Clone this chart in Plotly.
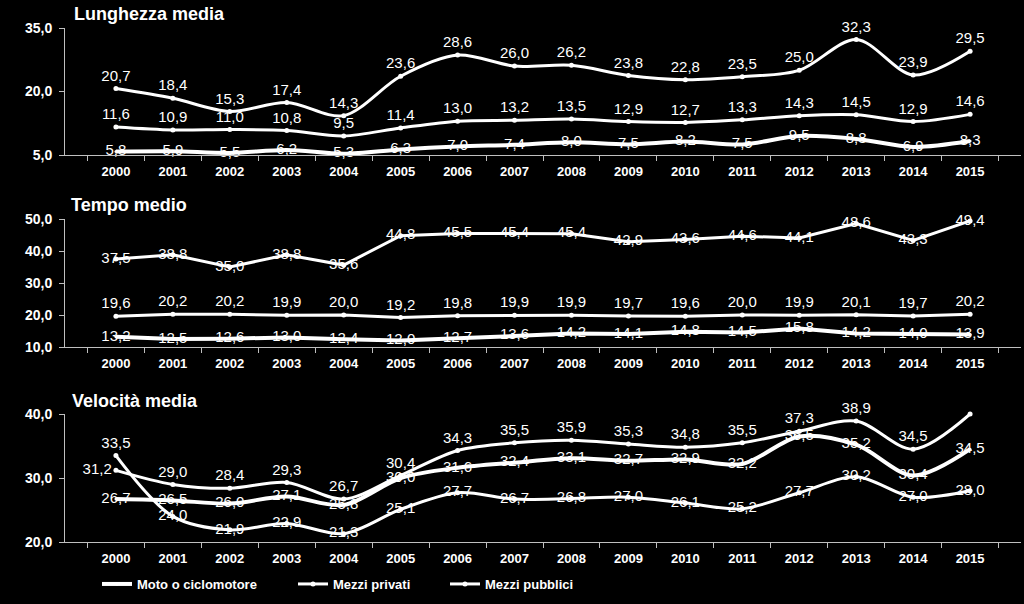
import plotly.graph_objects as go

years = [str(y) for y in range(2000, 2016)]

# Lunghezza media
len_pub = [20.7, 18.4, 15.3, 17.4, 14.3, 23.6, 28.6, 26.0, 26.2, 23.8, 22.8, 23.5, 25.0, 32.3, 23.9, 29.5]
len_priv = [11.6, 10.9, 11.0, 10.8, 9.5, 11.4, 13.0, 13.2, 13.5, 12.9, 12.7, 13.3, 14.3, 14.5, 12.9, 14.6]
len_moto = [5.8, 5.9, 5.5, 6.2, 5.3, 6.3, 7.0, 7.4, 8.0, 7.5, 8.2, 7.5, 9.5, 8.8, 6.9, 8.3]

# Tempo medio
tmp_pub = [37.5, 38.8, 35.0, 38.8, 35.6, 44.8, 45.5, 45.4, 45.4, 42.9, 43.6, 44.6, 44.1, 48.6, 43.3, 49.4]
tmp_priv = [19.6, 20.2, 20.2, 19.9, 20.0, 19.2, 19.8, 19.9, 19.9, 19.7, 19.6, 20.0, 19.9, 20.1, 19.7, 20.2]
tmp_moto = [13.2, 12.5, 12.6, 13.0, 12.4, 12.0, 12.7, 13.6, 14.2, 14.1, 14.8, 14.5, 15.8, 14.2, 14.0, 13.9]

# Velocità media
vel_priv = [31.2, 29.0, 28.4, 29.3, 26.7, 30.4, 34.3, 35.5, 35.9, 35.3, 34.8, 35.5, 37.3, 38.9, 34.5, 40.0]
vel_moto = [26.7, 26.5, 26.0, 27.1, 25.8, 30.0, 31.6, 32.4, 33.1, 32.7, 32.9, 32.2, 36.5, 35.2, 30.4, 34.5]
vel_pub = [33.5, 24.0, 21.9, 22.9, 21.3, 25.1, 27.7, 26.7, 26.8, 27.0, 26.1, 25.2, 27.7, 30.2, 27.0, 28.0]

series_names = ["Moto o ciclomotore", "Mezzi privati", "Mezzi pubblici"]
panel_titles = ["Lunghezza media", "Tempo medio", "Velocità media"]

FONT = "Liberation Sans, Arial, sans-serif"
W, H = 1024, 604


def lab(vals, hide_last=False):
    out = [f"{v:.1f}".replace(".", ",") for v in vals]
    if hide_last:
        out[-1] = ""
    return out


fig = go.Figure()


def add(vals, axis, kind, shape, pos, name, legend=None, text=None):
    thick = kind == "moto"
    fig.add_trace(go.Scatter(
        x=years, y=vals,
        xaxis="x" + axis, yaxis="y" + axis,
        mode="lines+markers+text",
        line=dict(color="white", width=4 if thick else 3, shape=shape, smoothing=0.9),
        marker=dict(color="white", size=3 if thick else 5),
        text=text if text is not None else lab(vals),
        textposition=pos,
        textfont=dict(color="white", size=15, family=FONT),
        cliponaxis=False,
        name=name,
        showlegend=legend is not None,
        legend=legend if legend else "legend",
    ))


n = len(years)
# Panel 1
add(len_pub, "", "pub", "spline", ["top center"] * n, series_names[2])
add(len_priv, "", "priv", "spline", ["top center"] * n, series_names[1])
add(len_moto, "", "moto", "spline", ["middle center"] * n, series_names[0])
# Panel 2
add(tmp_pub, "2", "pub", "linear", ["middle center"] * n, series_names[2])
add(tmp_priv, "2", "priv", "linear", ["top center"] * n, series_names[1])
add(tmp_moto, "2", "moto", "linear", ["middle center"] * n, series_names[0])
# Panel 3
add(vel_moto, "3", "moto", "spline", ["middle center"] * n, series_names[0], legend="legend")
vp = ["top center"] * n
vp[0] = "middle left"
add(vel_priv, "3", "priv", "spline", vp, series_names[1], legend="legend2",
    text=lab(vel_priv, hide_last=True))
vb = ["middle center"] * n
vb[0] = "top center"
add(vel_pub, "3", "pub", "spline", vb, series_names[2], legend="legend3")

xdom = [65 / W, 1021 / W]
ydoms = [
    [1 - 155 / H, 1 - 28 / H],
    [1 - 347 / H, 1 - 219 / H],
    [1 - 542 / H, 1 - 414 / H],
]
yranges = [[5, 35], [10, 50], [20, 40]]
ydticks = [15, 10, 10]

axcol = "#bfbfbf"
tickfont = dict(color="white", size=14, family=FONT, weight="bold")

layout = dict(
    template="none",
    width=W, height=H,
    paper_bgcolor="black", plot_bgcolor="black",
    margin=dict(l=0, r=0, t=0, b=0),
    separators=",.",
    font=dict(family=FONT, color="white"),
    showlegend=True,
)

for i in range(3):
    s = "" if i == 0 else str(i + 1)
    layout["xaxis" + s] = dict(
        domain=xdom, anchor="y" + s, type="category",
        tickson="boundaries", ticks="outside", ticklen=5, tickcolor=axcol,
        showline=True, linecolor=axcol, linewidth=1, showgrid=False, zeroline=False,
        tickfont=dict(color="white", size=13, family=FONT, weight="bold"),
        ticklabelstandoff=4,
        automargin=False, fixedrange=True,
    )
    layout["yaxis" + s] = dict(
        domain=ydoms[i], anchor="x" + s, range=yranges[i], dtick=ydticks[i],
        tick0=yranges[i][0], tickformat=".1f",
        ticks="outside", ticklen=5, tickcolor=axcol,
        showline=True, linecolor=axcol, linewidth=1, showgrid=False, zeroline=False,
        tickfont=tickfont, ticklabelstandoff=4, automargin=False, fixedrange=True,
    )

legend_x = [97, 293, 445]
for i, key in enumerate(["legend", "legend2", "legend3"]):
    layout[key] = dict(
        x=legend_x[i] / W, xanchor="left", y=1 - 584 / H, yanchor="middle",
        orientation="h", bgcolor="rgba(0,0,0,0)",
        font=dict(color="white", size=13, family=FONT, weight="bold"),
        itemwidth=30,
    )

title_pos = [(72, 14), (69, 205), (70, 401)]
annotations = []
for t, (px, py) in zip(panel_titles, title_pos):
    annotations.append(dict(
        text=t, xref="paper", yref="paper", x=px / W, y=1 - py / H,
        xanchor="left", yanchor="middle", showarrow=False,
        font=dict(color="white", size=18, family=FONT, weight="bold"),
    ))
layout["annotations"] = annotations

fig.update_layout(**layout)
fig.write_html(
    "out.html",
    config={"displayModeBar": False},
    post_script="document.body.style.margin='0';document.body.style.background='black';",
)
